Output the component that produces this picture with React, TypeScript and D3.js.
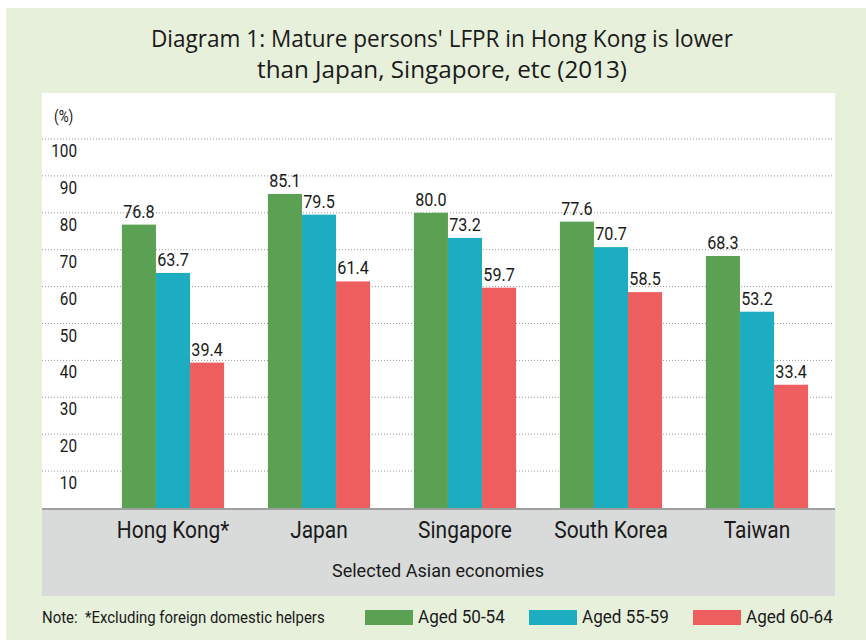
import React from "react";
import * as d3 from "d3";

const categories = ["Hong Kong*", "Japan", "Singapore", "South Korea", "Taiwan"];
const seriesNames = ["Aged 50-54", "Aged 55-59", "Aged 60-64"];
const aged5054 = [76.8, 85.1, 80.0, 77.6, 68.3];
const aged5559 = [63.7, 79.5, 73.2, 70.7, 53.2];
const aged6064 = [39.4, 61.4, 59.7, 58.5, 33.4];
const yTicks = [10, 20, 30, 40, 50, 60, 70, 80, 90, 100];
const colors = ["#5BA153", "#1CADC1", "#EE5E5E"];

const W = 866;
const H = 642;
const COND = "Roboto, 'Liberation Sans', sans-serif";
const SX = 0.85;

function CText(props: { x: number; y: number; size: number; anchor?: string; sx?: number; children: React.ReactNode }) {
  const { x, y, size, anchor = "start", sx = SX, children } = props;
  return (
    <text
      transform={`translate(${x},${y}) scale(${sx},1)`}
      textAnchor={anchor}
      fontFamily={COND}
      fontSize={size}
      fill="#1a1a1a"
    >
      {children}
    </text>
  );
}

export default function App() {
  const series = [aged5054, aged5559, aged6064];
  const x = d3.scaleBand<string>().domain(categories).range([100, 830]).paddingInner(0.3).paddingOuter(0.15);
  const xs = d3.scaleBand<number>().domain([0, 1, 2]).range([0, x.bandwidth()]);
  const y = d3.scaleLinear().domain([0, 100]).range([508, 139]);
  const panelL = 42, panelR = 835, panelT = 93;

  return (
    <div style={{ position: "absolute", left: 0, top: 0, margin: 0 }}>
      <svg width={W} height={H} style={{ display: "block" }}>
        <rect x={0} y={0} width={W} height={H} fill="#ffffff" />
        <rect x={6} y={8} width={W - 6} height={632} fill="#E6F0DA" />
        <g fontFamily="'Open Sans', 'Noto Sans', sans-serif" fontSize={23} fill="#1a1a1a" textAnchor="middle">
          <text x={442} y={47} textLength={582} lengthAdjust="spacingAndGlyphs">Diagram 1: Mature persons' LFPR in Hong Kong is lower</text>
          <text x={442} y={78} textLength={370} lengthAdjust="spacingAndGlyphs">than Japan, Singapore, etc (2013)</text>
        </g>
        <rect x={panelL} y={panelT} width={panelR - panelL} height={y(0) - panelT} fill="#ffffff" />
        {yTicks.map((t) => (
          <g key={t}>
            <line x1={panelL} x2={panelR - 2} y1={y(t)} y2={y(t)} stroke="#9a9a9a" strokeWidth={1} strokeDasharray="1,2" />
            <CText x={77} y={y(t) + 18} size={18} anchor="end">{t}</CText>
          </g>
        ))}
        <CText x={54} y={122} size={16}>(%)</CText>
        {categories.map((c, i) => (
          <g key={c} transform={`translate(${x(c)},0)`}>
            {series.map((s, j) => (
              <g key={j}>
                <rect x={xs(j)} y={y(s[i])} width={xs.bandwidth()} height={y(0) - y(s[i])} fill={colors[j]} />
                <CText x={(xs(j) as number) + xs.bandwidth() / 2} y={y(s[i]) - 7} size={19} anchor="middle">{s[i].toFixed(1)}</CText>
              </g>
            ))}
          </g>
        ))}
        <rect x={panelL} y={y(0)} width={panelR - panelL} height={596 - y(0)} fill="#D9DADA" />
        <line x1={panelL} x2={panelR} y1={y(0) + 1} y2={y(0) + 1} stroke="#9f9f9f" strokeWidth={2} />
        {categories.map((c) => (
          <CText key={c} x={(x(c) as number) + x.bandwidth() / 2} y={538} size={23} sx={0.91} anchor="middle">{c}</CText>
        ))}
        <CText x={438} y={577} size={19} sx={0.95} anchor="middle">Selected Asian economies</CText>
        <CText x={42} y={623} size={17} sx={0.88}>{"Note:\u00A0 *Excluding foreign domestic helpers"}</CText>
        {seriesNames.map((n, j) => (
          <g key={n} transform={`translate(${365 + j * 164},610)`}>
            <rect x={0} y={0} width={48} height={15} fill={colors[j]} />
            <CText x={53} y={13} size={18} sx={0.95}>{n}</CText>
          </g>
        ))}
      </svg>
    </div>
  );
}
